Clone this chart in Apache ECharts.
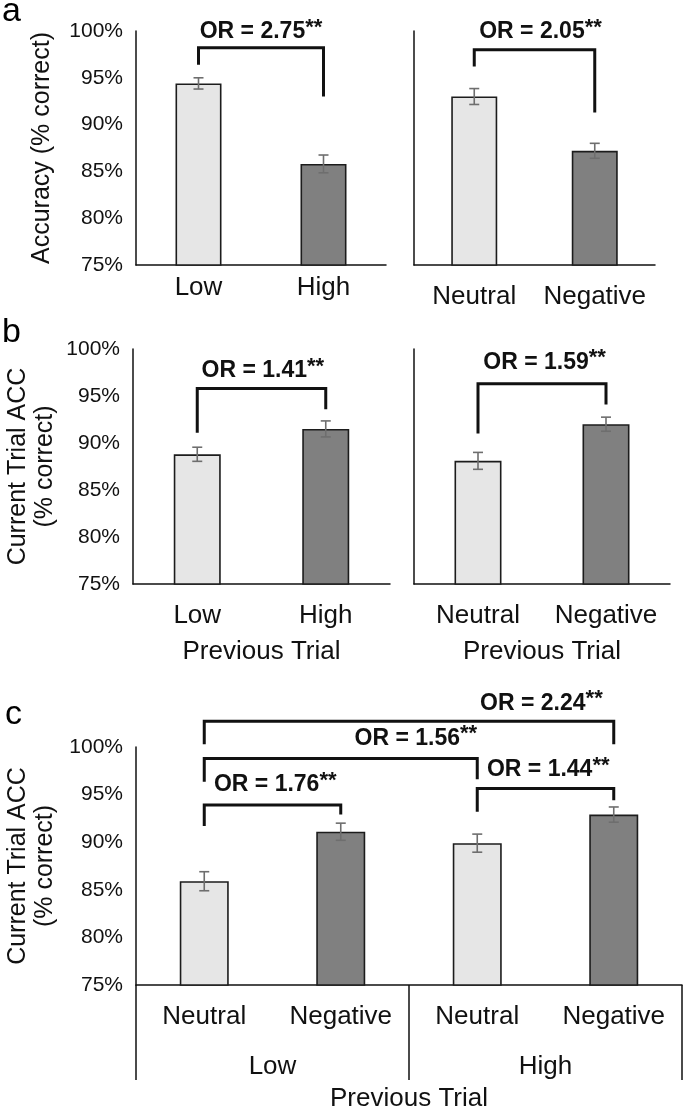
<!DOCTYPE html>
<html>
<head>
<meta charset="utf-8">
<script src="https://cdn.jsdelivr.net/npm/echarts@6/dist/echarts.min.js"></script>
<style>html,body{margin:0;padding:0;background:#fff}#main{width:685px;height:1112px}</style>
</head>
<body>
<div id="main"></div>
<script>
// ---------- data ----------
const catsA1 = ['Low', 'High'];
const accA1 = [94.4, 85.8];
const errA1 = [0.6, 0.95];
const catsA2 = ['Neutral', 'Negative'];
const accA2 = [93.0, 87.2];
const errA2 = [0.85, 0.8];
const catsB1 = ['Low', 'High'];
const accB1 = [88.8, 91.5];
const errB1 = [0.75, 0.85];
const catsB2 = ['Neutral', 'Negative'];
const accB2 = [88.1, 92.0];
const errB2 = [0.9, 0.75];
const catsC = ['Neutral', 'Negative', 'Neutral', 'Negative'];
const groupsC = ['Low', 'High'];
const accC = [85.9, 91.1, 89.9, 92.9];
const errC = [1.0, 0.9, 0.95, 0.8];
const yMin = 75, yMax = 100, yStep = 5;
// brackets: [fromCat, toCat, yTop, yLeftEnd, yRightEnd, labelPos(cat units), labelY]
const bracketsA1 = [[0, 1, 98.2, 96.4, 93.0, 0.5, 99.9]];
const orA1 = ['2.75'];
const bracketsA2 = [[0, 1, 98.0, 96.2, 91.3, 0.55, 99.9]];
const orA2 = ['2.05'];
const bracketsB1 = [[0, 1, 95.8, 91.1, 93.6, 0.51, 97.7]];
const orB1 = ['1.41'];
const bracketsB2 = [[0, 1, 96.3, 91.0, 94.1, 0.52, 98.6]];
const orB2 = ['1.59'];
const bracketsC = [
  [0, 3, 102.7, 100.3, 100.3, 2.47, 104.6],
  [0, 2, 98.8, 96.35, 96.6, 1.55, 100.9],
  [0, 1, 93.9, 91.7, 92.9, 0.52, 96.0],
  [2, 3, 95.65, 93.2, 94.4, 2.52, 97.6]
];
const orC = ['2.24', '1.56', '1.76', '1.44'];

// ---------- style ----------
const FONT = '"Liberation Sans", Arial, Helvetica, sans-serif';
const LIGHT = '#e6e6e6', DARK = '#808080', EDGE = '#1c1c1c', TXT = '#111';
const LABEL_SIZE = 26, TICK_SIZE = 21, NAME_SIZE = 25, OR_SIZE = 23;

function barData(vals) {
  return vals.map((v, i) => ({ value: v, itemStyle: { color: i % 2 === 0 ? LIGHT : DARK } }));
}
function errRender(params, api) {
  const x = api.value(0), v = api.value(1), e = api.value(2);
  const t = api.coord([x, v + e]), b = api.coord([x, v - e]);
  const hw = 5;
  const st = { stroke: '#6e6e6e', lineWidth: 1.6 };
  return { type: 'group', children: [
    { type: 'line', shape: { x1: t[0], y1: t[1], x2: b[0], y2: b[1] }, style: st },
    { type: 'line', shape: { x1: t[0] - hw, y1: t[1], x2: t[0] + hw, y2: t[1] }, style: st },
    { type: 'line', shape: { x1: b[0] - hw, y1: b[1], x2: b[0] + hw, y2: b[1] }, style: st }
  ]};
}
function bracketRender(labels) {
  return function (params, api) {
    const x1 = api.value(0), x2 = api.value(1);
    const yT = api.value(2), yL = api.value(3), yR = api.value(4);
    const lp = api.value(5), ly = api.value(6);
    const pL = api.coord([x1, yL]), pLT = api.coord([x1, yT]);
    const pRT = api.coord([x2, yT]), pR = api.coord([x2, yR]);
    const band = api.size([1, 0])[0];
    const c0 = api.coord([0, ly]);
    return { type: 'group', children: [
      { type: 'polyline', shape: { points: [pL, pLT, pRT, pR] },
        style: { stroke: '#111', lineWidth: 3, fill: null, lineJoin: 'miter', lineCap: 'butt' } },
      { type: 'text', style: {
          x: c0[0] + lp * band, y: c0[1],
          text: '{m|OR = ' + labels[params.dataIndex] + '}{s|**}',
          align: 'center', verticalAlign: 'middle',
          rich: {
            m: { fontFamily: FONT, fontSize: OR_SIZE, fontWeight: 'bold', fill: '#111' },
            s: { fontFamily: FONT, fontSize: OR_SIZE - 1, fontWeight: 'bold', fill: '#111', padding: [0, 0, 8, 0] }
          }
      } }
    ]};
  };
}

function xAx(gi, cats, margin, name, nameGap) {
  const o = {
    type: 'category', gridIndex: gi, data: cats,
    axisLine: { show: true, lineStyle: { color: '#111', width: 1.5 } },
    axisTick: { show: false },
    axisLabel: { fontFamily: FONT, fontSize: LABEL_SIZE, color: TXT, margin: margin, interval: 0 },
    splitLine: { show: false }
  };
  if (name) {
    o.name = name; o.nameLocation = 'middle'; o.nameGap = nameGap;
    o.nameTextStyle = { fontFamily: FONT, fontSize: LABEL_SIZE, color: TXT };
  }
  return o;
}
function yAx(gi, showLabel, name, nameGap) {
  const o = {
    type: 'value', gridIndex: gi, min: yMin, max: yMax, interval: yStep,
    axisLine: { show: true, lineStyle: { color: '#111', width: 1.5 } },
    axisTick: { show: false },
    splitLine: { show: false },
    axisLabel: { show: showLabel, formatter: '{value}%', fontFamily: FONT, fontSize: TICK_SIZE, color: TXT, margin: 13 }
  };
  if (name) {
    o.name = name; o.nameLocation = 'middle'; o.nameGap = nameGap;
    o.nameTextStyle = { fontFamily: FONT, fontSize: NAME_SIZE, color: TXT, lineHeight: 27 };
  }
  return o;
}
function panelSeries(ai, vals, errs, brackets, labels, bw) {
  return [
    { type: 'bar', xAxisIndex: ai, yAxisIndex: ai, data: barData(vals), barWidth: bw,
      itemStyle: { borderColor: EDGE, borderWidth: 1.6 }, silent: true },
    { type: 'custom', xAxisIndex: ai, yAxisIndex: ai, renderItem: errRender, z: 5, clip: false,
      data: vals.map((v, i) => [i, v, errs[i]]) },
    { type: 'custom', xAxisIndex: ai, yAxisIndex: ai, renderItem: bracketRender(labels), z: 6, clip: false,
      data: brackets }
  ];
}

const gridBase = { containLabel: false, outerBoundsMode: 'none' };
const option = {
  animation: false,
  backgroundColor: '#fff',
  grid: [
    Object.assign({ left: 136, top: 31, width: 250, height: 234 }, gridBase),
    Object.assign({ left: 414, top: 31, width: 241, height: 234 }, gridBase),
    Object.assign({ left: 133, top: 349, width: 257, height: 235 }, gridBase),
    Object.assign({ left: 414, top: 349, width: 256, height: 235 }, gridBase),
    Object.assign({ left: 136, top: 747, width: 546, height: 238 }, gridBase)
  ],
  xAxis: [
    xAx(0, catsA1, 10),
    xAx(1, catsA2, 19),
    xAx(2, catsB1, 19, 'Previous Trial', 55),
    xAx(3, catsB2, 19, 'Previous Trial', 55),
    xAx(4, catsC, 19),
    {
      type: 'category', gridIndex: 4, data: groupsC, position: 'bottom',
      axisLine: { show: false },
      axisTick: { show: true, length: 95, interval: 0, alignWithLabel: false, lineStyle: { color: '#111', width: 1.5 } },
      axisLabel: { fontFamily: FONT, fontSize: LABEL_SIZE, color: TXT, margin: 69, interval: 0 },
      splitLine: { show: false },
      name: 'Previous Trial', nameLocation: 'middle', nameGap: 101,
      nameTextStyle: { fontFamily: FONT, fontSize: LABEL_SIZE, color: TXT }
    }
  ],
  yAxis: [
    yAx(0, true, 'Accuracy (% correct)', 80),
    yAx(1, false),
    yAx(2, true, 'Current Trial ACC\n(% correct)', 74),
    yAx(3, false),
    yAx(4, true, 'Current Trial ACC\n(% correct)', 77)
  ],
  graphic: [
    { type: 'text', style: { x: 2, y: 12, text: 'a', font: '34px ' + FONT, fill: '#000', verticalAlign: 'middle' } },
    { type: 'text', style: { x: 2, y: 333, text: 'b', font: '34px ' + FONT, fill: '#000', verticalAlign: 'middle' } },
    { type: 'text', style: { x: 5, y: 715, text: 'c', font: '34px ' + FONT, fill: '#000', verticalAlign: 'middle' } }
  ],
  series: [].concat(
    panelSeries(0, accA1, errA1, bracketsA1, orA1, 46),
    panelSeries(1, accA2, errA2, bracketsA2, orA2, 46),
    panelSeries(2, accB1, errB1, bracketsB1, orB1, 47),
    panelSeries(3, accB2, errB2, bracketsB2, orB2, 47),
    panelSeries(4, accC, errC, bracketsC, orC, 49)
  )
};
const chart = echarts.init(document.getElementById('main'), null, { renderer: 'canvas' });
chart.setOption(option);
</script>
</body>
</html>
